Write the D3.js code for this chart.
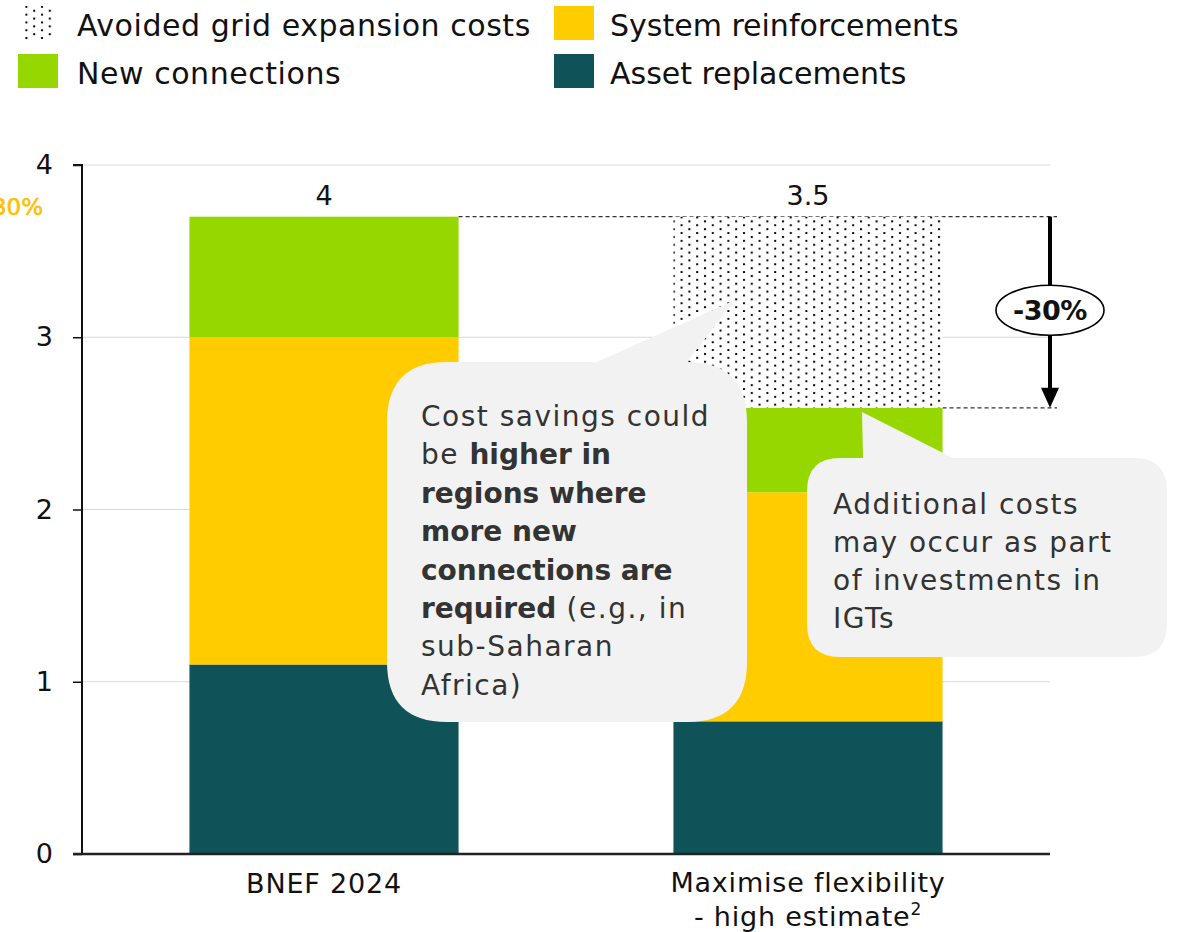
<!DOCTYPE html>
<html>
<head>
<meta charset="utf-8">
<script src="https://cdn.jsdelivr.net/npm/d3@7"></script>
<style>
  html, body { margin: 0; padding: 0; background: #fff; }
  svg { display: block; font-family: "DejaVu Sans", sans-serif; }
</style>
</head>
<body>
<svg id="chart" width="1179" height="932"></svg>
<script>
// ---- data ----
const categories = ["BNEF 2024", "Maximise flexibility - high estimate"];
const assetReplacements = [1.1, 0.77];
const systemReinforcements = [1.9, 1.33];
const newConnections = [0.7, 0.49];
const avoidedCosts = [0, 1.11];
const totalLabels = ["4", "3.5"];
const yTicks = [0, 1, 2, 3, 4];
const seriesNames = ["Asset replacements", "System reinforcements", "New connections", "Avoided grid expansion costs"];
const reductionLabel = "-30%";

// ---- styles ----
const colors = {
  "Asset replacements": "#0F5257",
  "System reinforcements": "#FFCC00",
  "New connections": "#96D700",
  "Avoided grid expansion costs": "url(#dots)"
};

const svg = d3.select("#chart");
const defs = svg.append("defs");
const pat = defs.append("pattern").attr("id", "dots").attr("patternUnits", "userSpaceOnUse")
  .attr("width", 15.6).attr("height", 7.8);
pat.append("rect").attr("width", 15.6).attr("height", 7.8).attr("fill", "#fff");
pat.append("rect").attr("x", 2).attr("y", 2).attr("width", 2).attr("height", 2).attr("fill", "#000");
pat.append("rect").attr("x", 9.8).attr("y", 5.9).attr("width", 2).attr("height", 1.9).attr("fill", "#000");

const x = d3.scaleBand().domain(categories).range([82, 1050]).padding(0);
const y = d3.scaleLinear().domain([0, 4]).range([854, 165]);
const barW = x.bandwidth() * 0.556;
const cx = c => x(c) + x.bandwidth() / 2;

// gridlines
svg.append("g").selectAll("line").data(yTicks.filter(d => d > 0)).join("line")
  .attr("x1", 82).attr("x2", 1050).attr("y1", d => y(d)).attr("y2", d => y(d))
  .attr("stroke", "#d9d9d9").attr("stroke-width", 1.2);

// stack
const rows = categories.map((c, i) => ({
  cat: c,
  "Asset replacements": assetReplacements[i],
  "System reinforcements": systemReinforcements[i],
  "New connections": newConnections[i],
  "Avoided grid expansion costs": avoidedCosts[i]
}));
const stacked = d3.stack().keys(seriesNames)(rows);

// dashed reference lines
const topVal = stacked[3][1][1];
const lowVal = stacked[2][1][1];
svg.append("line").attr("x1", cx(categories[0]) + barW / 2).attr("x2", 1057)
  .attr("y1", y(topVal)).attr("y2", y(topVal))
  .attr("stroke", "#333").attr("stroke-width", 1.2).attr("stroke-dasharray", "4,3");
svg.append("line").attr("x1", cx(categories[1]) + barW / 2).attr("x2", 1057)
  .attr("y1", y(lowVal)).attr("y2", y(lowVal))
  .attr("stroke", "#333").attr("stroke-width", 1.2).attr("stroke-dasharray", "4,3");

svg.append("g").selectAll("g").data(stacked).join("g")
  .attr("fill", d => colors[d.key])
  .selectAll("rect").data(d => d).join("rect")
  .attr("x", d => cx(d.data.cat) - barW / 2)
  .attr("width", barW)
  .attr("y", d => y(d[1]))
  .attr("height", d => y(d[0]) - y(d[1]));

// total labels
svg.append("g").selectAll("text").data(categories).join("text")
  .attr("x", d => cx(d)).attr("y", 205)
  .attr("text-anchor", "middle").attr("font-size", 27).attr("fill", "#111")
  .text((d, i) => totalLabels[i]);

// axes
const yAxis = d3.axisLeft(y).tickValues(yTicks).tickSize(9).tickPadding(20).tickFormat(d3.format("d"));
const gy = svg.append("g").attr("transform", "translate(82,0)").call(yAxis);
gy.select(".domain").attr("stroke", "#111").attr("stroke-width", 2).attr("d", "M-9," + y(4) + "H0V" + y(0));
gy.selectAll(".tick line").attr("stroke", "#111").attr("stroke-width", 1.5);
gy.selectAll(".tick text").attr("font-size", 27).attr("fill", "#111").attr("font-family", "DejaVu Sans");

// baseline
svg.append("line").attr("x1", 73).attr("x2", 1050).attr("y1", y(0)).attr("y2", y(0))
  .attr("stroke", "#222").attr("stroke-width", 2.5);

// x labels
const xl = svg.append("g").attr("font-size", 27).attr("fill", "#111").attr("text-anchor", "middle")
  .attr("letter-spacing", 0.8);
xl.append("text").attr("x", cx(categories[0])).attr("y", 893).text("BNEF 2024");
xl.append("text").attr("x", cx(categories[1])).attr("y", 892).text("Maximise flexibility");
const t2 = xl.append("text").attr("x", cx(categories[1])).attr("y", 926);
t2.append("tspan").text("- high estimate");
t2.append("tspan").attr("font-size", 17).attr("dy", -11).text("2");

// clipped yellow label at left (cut off at the page edge, as in the source)
svg.append("text").attr("x", 43).attr("y", 215).attr("text-anchor", "end")
  .attr("font-size", 23).attr("fill", "#FFC000").attr("stroke", "#FFC000").attr("stroke-width", 0.6)
  .text("-30%");

// arrow with ellipse
const ax = 1050;
svg.append("line").attr("x1", ax).attr("x2", ax).attr("y1", y(topVal)).attr("y2", y(lowVal) - 16)
  .attr("stroke", "#000").attr("stroke-width", 4);
svg.append("path").attr("d", `M${ax - 9},${y(lowVal) - 20}L${ax + 9},${y(lowVal) - 20}L${ax},${y(lowVal)}Z`).attr("fill", "#000");
const ey = (y(topVal) + y(lowVal)) / 2 - 2;
svg.append("ellipse").attr("cx", ax).attr("cy", ey).attr("rx", 54).attr("ry", 25)
  .attr("fill", "#fff").attr("stroke", "#000").attr("stroke-width", 1.6);
svg.append("text").attr("x", ax).attr("y", ey + 10).attr("text-anchor", "middle")
  .attr("font-size", 27).attr("font-weight", "bold").attr("letter-spacing", -0.5).attr("fill", "#111").text(reductionLabel);

// callouts
function callout(x0, y0, w, h, tail) {
  const r = Math.min(w, h) / 6;
  const p = d3.path();
  p.moveTo(x0 + r, y0);
  p.lineTo(tail[0][0], y0);
  p.lineTo(tail[1][0], tail[1][1]);
  p.lineTo(tail[2][0], y0);
  p.lineTo(x0 + w - r, y0);
  p.quadraticCurveTo(x0 + w, y0, x0 + w, y0 + r);
  p.lineTo(x0 + w, y0 + h - r);
  p.quadraticCurveTo(x0 + w, y0 + h, x0 + w - r, y0 + h);
  p.lineTo(x0 + r, y0 + h);
  p.quadraticCurveTo(x0, y0 + h, x0, y0 + h - r);
  p.lineTo(x0, y0 + r);
  p.quadraticCurveTo(x0, y0, x0 + r, y0);
  p.closePath();
  svg.append("path").attr("d", p.toString()).attr("fill", "#F2F2F2");
}
callout(387, 362, 360, 360, [[597], [735, 300], [687]]);
callout(807, 458, 360, 199, [[863], [862, 412], [953]]);

const c1 = [
  [["Cost savings could", false]],
  [["be ", false], ["higher in", true]],
  [["regions where", true]],
  [["more new", true]],
  [["connections are", true]],
  [["required", true], [" (e.g., in", false]],
  [["sub-Saharan", false]],
  [["Africa)", false]]
];
const g1 = svg.append("g").attr("font-size", 28).attr("fill", "#333");
c1.forEach((line, i) => {
  const t = g1.append("text").attr("x", 421).attr("y", 426 + i * 38.4);
  line.forEach(([s, b]) => t.append("tspan")
    .attr("font-weight", b ? "bold" : "normal")
    .attr("letter-spacing", b ? 0 : 1.5)
    .text(s));
});
const c2 = ["Additional costs", "may occur as part", "of investments in", "IGTs"];
svg.append("g").attr("font-size", 28).attr("fill", "#333").attr("letter-spacing", 1.5)
  .selectAll("text").data(c2).join("text")
  .attr("x", 833).attr("y", (d, i) => 514 + i * 38).text(d => d);

// legend
const legendItems = [
  { name: "Avoided grid expansion costs", x: 22, y: 6 },
  { name: "System reinforcements", x: 554, y: 6 },
  { name: "New connections", x: 18, y: 54 },
  { name: "Asset replacements", x: 554, y: 54 }
];
const lg = svg.append("g");
legendItems.forEach(it => {
  lg.append("rect").attr("x", it.x).attr("y", it.y).attr("width", it.name.startsWith("Avoided") ? 32 : 40).attr("height", 34)
    .attr("fill", colors[it.name]);
  lg.append("text").attr("x", it.x < 100 ? 77 : 610).attr("y", it.y + 30)
    .attr("font-size", 30).attr("fill", "#111").attr("letter-spacing", it.x < 100 ? 0.55 : 0).text(it.name);
});
</script>
</body>
</html>
